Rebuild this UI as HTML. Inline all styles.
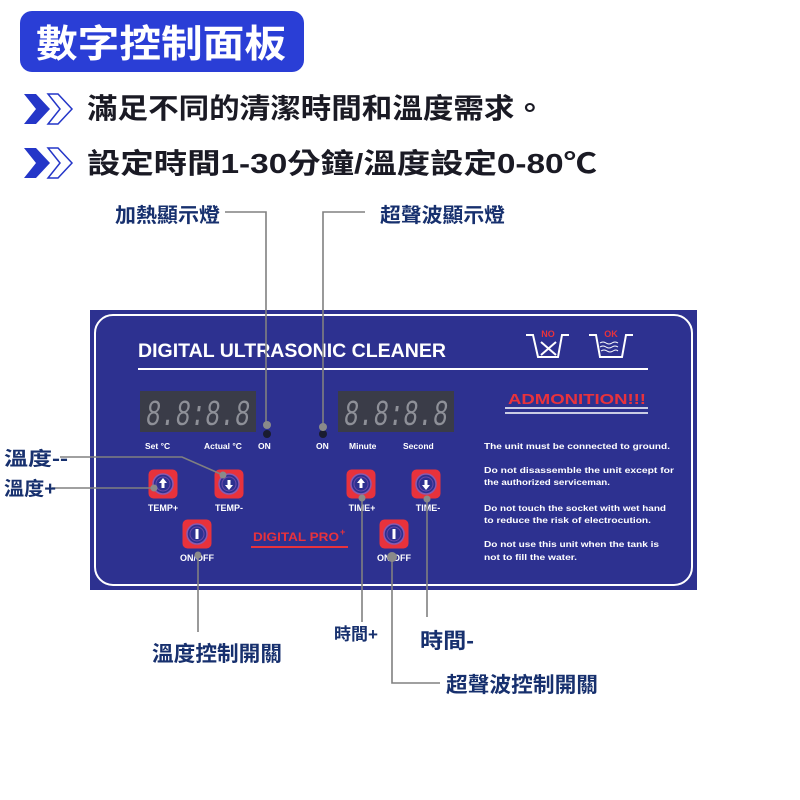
<!DOCTYPE html>
<html><head><meta charset="utf-8"><style>
body{margin:0;background:#fff;width:800px;height:800px;overflow:hidden}
svg{display:block}
.cj{font-family:"Liberation Sans","Noto Sans CJK TC",sans-serif;font-weight:bold}
.en{font-family:"Liberation Sans",sans-serif;font-weight:bold}
</style></head><body>
<svg width="800" height="800" viewBox="0 0 800 800" xmlns="http://www.w3.org/2000/svg">
<defs>
<g id="chev">
<path d="M24 0 L36 0 L50 15 L36 30 L24 30 L36 15 Z" fill="#2436c8"/>
<path d="M48 0 L58 0 L72 15 L58 30 L48 30 L60 15 Z" fill="#fff" stroke="#2436c8" stroke-width="1.5"/>
</g>
<g id="btn">
<rect x="-14.5" y="-14.5" width="29" height="29" rx="5" fill="#e8323c"/>
<circle r="10" fill="#2d3190" stroke="#8a5ab0" stroke-width="1.5"/>
<circle r="7" fill="none" stroke="#6a4aa8" stroke-width="1"/>
</g>
<g id="disp">
<rect x="0" y="0" width="116" height="41" fill="#3a3c48"/>
<text x="6" y="34" font-family="Liberation Mono,monospace" font-size="36" font-style="italic" fill="#8e9098" textLength="104" lengthAdjust="spacingAndGlyphs">8.8:8.8</text>
</g>
</defs>

<!-- header -->
<rect x="20" y="11" width="284" height="61" rx="12" fill="#2a3ed6"/>
<text x="36" y="57" class="cj" font-size="38" fill="#fff" textLength="250" lengthAdjust="spacingAndGlyphs">數字控制面板</text>
<use href="#chev" x="0" y="94"/>
<use href="#chev" x="0" y="148"/>
<text x="87" y="118" class="cj" font-size="28" fill="#1a1a24" textLength="458" lengthAdjust="spacingAndGlyphs">滿足不同的清潔時間和溫度需求。</text>
<text x="87" y="173" class="cj" font-size="28" fill="#1a1a24" textLength="510" lengthAdjust="spacingAndGlyphs">設定時間1-30分鐘/溫度設定0-80℃</text>

<!-- top labels -->
<text x="115" y="222" class="cj" font-size="20" fill="#17306e" textLength="105" lengthAdjust="spacingAndGlyphs">加熱顯示燈</text>
<text x="380" y="222" class="cj" font-size="20" fill="#17306e" textLength="125" lengthAdjust="spacingAndGlyphs">超聲波顯示燈</text>

<!-- panel -->
<rect x="90" y="310" width="607" height="280" fill="#2d3190"/>
<rect x="95" y="315" width="597" height="270" rx="18" fill="none" stroke="#fff" stroke-width="2"/>
<text x="138" y="357" class="en" font-size="19" fill="#fff" textLength="308" lengthAdjust="spacingAndGlyphs">DIGITAL ULTRASONIC CLEANER</text>
<line x1="138" y1="369" x2="648" y2="369" stroke="#fff" stroke-width="2"/>

<!-- NO / OK icons -->
<g stroke="#fff" stroke-width="2" fill="none">
<path d="M526 335 L533 335 L538 357 L558 357 L562 335 L569 335"/>
<path d="M541 342 L556 355 M556 342 L541 355"/>
<path d="M589 335 L596 335 L600 357 L622 357 L626 335 L633 335"/>
<path d="M600 343 q3 -2 6 0 t6 0 t6 0 M600 347 q3 -2 6 0 t6 0 t6 0 M601 351 q3 -2 6 0 t6 0 t5 0" stroke-width="1"/>
</g>
<text x="548" y="337" text-anchor="middle" class="en" font-size="9" fill="#e8323c">NO</text>
<text x="611" y="337" text-anchor="middle" class="en" font-size="9" fill="#e8323c">OK</text>

<text x="508" y="404" class="en" font-size="15" fill="#e8323c" textLength="138" lengthAdjust="spacingAndGlyphs">ADMONITION!!!</text>
<line x1="505" y1="408" x2="648" y2="408" stroke="#fff" stroke-width="1.5"/>
<line x1="505" y1="413" x2="648" y2="413" stroke="#fff" stroke-width="1.5"/>
<g class="en" font-size="8.5" fill="#fff">
<text x="484" y="449" textLength="186" lengthAdjust="spacingAndGlyphs">The unit must be connected to ground.</text>
<text x="484" y="473" textLength="190" lengthAdjust="spacingAndGlyphs">Do not disassemble the unit except  for</text>
<text x="484" y="485" textLength="126" lengthAdjust="spacingAndGlyphs">the authorized serviceman.</text>
<text x="484" y="511" textLength="182" lengthAdjust="spacingAndGlyphs">Do not touch the socket with wet hand</text>
<text x="484" y="523" textLength="167" lengthAdjust="spacingAndGlyphs">to reduce the risk of electrocution.</text>
<text x="484" y="547" textLength="175" lengthAdjust="spacingAndGlyphs">Do not use this unit when the tank is</text>
<text x="484" y="560" textLength="93" lengthAdjust="spacingAndGlyphs">not to fill the water.</text>
</g>

<!-- displays -->
<use href="#disp" x="140" y="391"/>
<use href="#disp" x="338" y="391"/>
<circle cx="267" cy="434" r="4" fill="#1a1c30"/>
<circle cx="323" cy="434" r="4" fill="#1a1c30"/>
<g class="en" font-size="8.5" fill="#fff">
<text x="145" y="449">Set  °C</text>
<text x="204" y="449">Actual °C</text>
<text x="258" y="449">ON</text>
<text x="316" y="449">ON</text>
<text x="349" y="449">Minute</text>
<text x="403" y="449">Second</text>
</g>

<!-- buttons -->
<use href="#btn" x="163" y="484"/>
<use href="#btn" x="229" y="484"/>
<use href="#btn" x="361" y="484"/>
<use href="#btn" x="426" y="484"/>
<use href="#btn" x="197" y="534"/>
<use href="#btn" x="394" y="534"/>
<g fill="#fff">
<path d="M163 478 l-4 5 h2.5 v5 h3 v-5 h2.5z"/>
<path d="M361 478 l-4 5 h2.5 v5 h3 v-5 h2.5z"/>
<path d="M229 490 l-4 -5 h2.5 v-5 h3 v5 h2.5z"/>
<path d="M426 490 l-4 -5 h2.5 v-5 h3 v5 h2.5z"/>
<rect x="195.5" y="529" width="3" height="10"/>
<rect x="392.5" y="529" width="3" height="10"/>
</g>
<g class="en" font-size="9" fill="#fff" text-anchor="middle">
<text x="163" y="511">TEMP+</text>
<text x="229" y="511">TEMP-</text>
<text x="362" y="511">TIME+</text>
<text x="428" y="511">TIME-</text>
<text x="197" y="561">ON/OFF</text>
<text x="394" y="561">ON/OFF</text>
</g>
<text x="253" y="541" class="en" font-size="12" fill="#e8323c" textLength="86" lengthAdjust="spacingAndGlyphs">DIGITAL PRO</text>
<text x="340" y="535" class="en" font-size="9" fill="#e8323c">+</text>
<line x1="251" y1="547" x2="348" y2="547" stroke="#e8323c" stroke-width="2"/>

<!-- connectors -->
<g stroke="#808080" stroke-width="1.6" fill="none">
<path d="M225 212 H266 V425"/>
<path d="M365 212 H323 V427"/>
<path d="M60 457 H182 L223 475"/>
<path d="M52 488 H154"/>
<path d="M198 555 V632"/>
<path d="M362 498 V622"/>
<path d="M427 499 V617"/>
<path d="M392 557 V683 H440"/>
</g>
<g fill="#8a8a8a">
<circle cx="267" cy="425" r="4"/>
<circle cx="323" cy="427" r="4"/>
<circle cx="223" cy="475" r="3.5"/>
<circle cx="154" cy="488" r="3.5"/>
<circle cx="362" cy="498" r="3.5"/>
<circle cx="427" cy="499" r="3.5"/>
<circle cx="198" cy="555" r="3.5"/>
<circle cx="392" cy="557" r="5"/>
</g>

<!-- side/bottom labels -->
<g class="cj" fill="#17306e">
<text x="4" y="465" font-size="19" textLength="64" lengthAdjust="spacingAndGlyphs">溫度--</text>
<text x="4" y="495" font-size="19" textLength="52" lengthAdjust="spacingAndGlyphs">溫度+</text>
<text x="152" y="661" font-size="21" textLength="130" lengthAdjust="spacingAndGlyphs">溫度控制開關</text>
<text x="334" y="640" font-size="17" textLength="44" lengthAdjust="spacingAndGlyphs">時間+</text>
<text x="420" y="648" font-size="21" textLength="54" lengthAdjust="spacingAndGlyphs">時間-</text>
<text x="446" y="692" font-size="21" textLength="152" lengthAdjust="spacingAndGlyphs">超聲波控制開關</text>
</g>
</svg>
</body></html>
